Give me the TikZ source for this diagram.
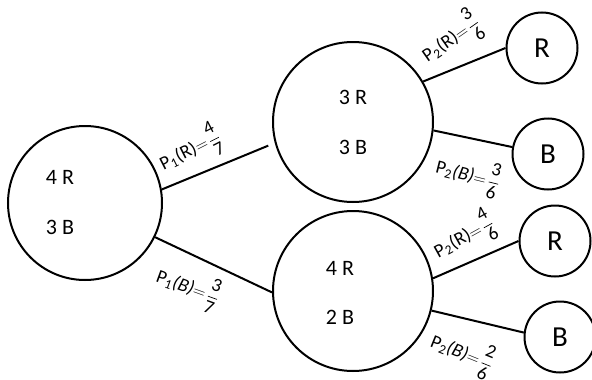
\documentclass[tikz,border=0pt]{standalone}
\usepackage{fontspec}
\usepackage{amsmath}
\setmainfont{Carlito}
\newcommand{\problabel}[4]{P\textsubscript{#1}#2$=\!\dfrac{\text{#3}}{\text{#4}}$}
\begin{document}
\begin{tikzpicture}[x=1pt, y=-1pt,
  bag/.style={circle, draw, line width=2pt, inner sep=0pt, minimum size=160pt},
  ball/.style={circle, draw, line width=2pt, inner sep=0pt, minimum size=71pt, font=\fontsize{29}{32}\selectfont},
  count/.style={font=\fontsize{22}{25}\selectfont, inner sep=0pt},
  prob/.style={font=\fontsize{19}{21}\selectfont, inner sep=0pt},
  branch/.style={line width=2pt}]
\useasboundingbox (0,0) rectangle (592,380);
% Bags
\node[bag, minimum size=154pt] (start) at (85,203) {};
\node[bag] (top) at (353,122) {};
\node[bag] (bot) at (353,291) {};
% Contents
\node[count] (startR) at (60,177) {4 R};
\node[count] (startB) at (60,227) {3 B};
\node[count] (topR3) at (353,97) {3 R};
\node[count] (topB3) at (353,147) {3 B};
\node[count] (botR4) at (340,268) {4 R};
\node[count] (botB2) at (340,317) {2 B};
% Outcomes
\node[ball] (topR) at (542,48) {R};
\node[ball] (topB) at (548,154) {B};
\node[ball] (botR) at (555,241) {R};
\node[ball] (botB) at (560,337) {B};
% Branches
\draw[branch, shorten >=7pt] (start.10) -- (top.195);
\draw[branch] (start.-26) -- (bot.181);
\draw[branch] (top.30) -- (topR.180);
\draw[branch] (top.-6) -- (topB.169);
\draw[branch] (bot.9) -- (botR.180);
\draw[branch] (bot.-14) -- (botB.173);
% Probabilities
\node[prob, rotate=27] (pR1) at (190,150) {\problabel{1}{(R)}{4}{7}};
\node[prob, rotate=-20] (pB1) at (188,287) {\problabel{1}{\textit{(B)}}{3}{7}};
\node[prob, rotate=35] (pRtop) at (451,39) {\problabel{2}{(R)}{3}{6}};
\node[prob, rotate=-14] (pBtop) at (468,175) {\problabel{2}{\textit{(B)}}{3}{6}};
\node[prob, rotate=29] (pRbot) at (464,237) {\problabel{2}{(R)}{4}{6}};
\node[prob, rotate=-22] (pBbot) at (462,353) {\problabel{2}{\textit{(B)}}{2}{6}};
\end{tikzpicture}
\end{document}
